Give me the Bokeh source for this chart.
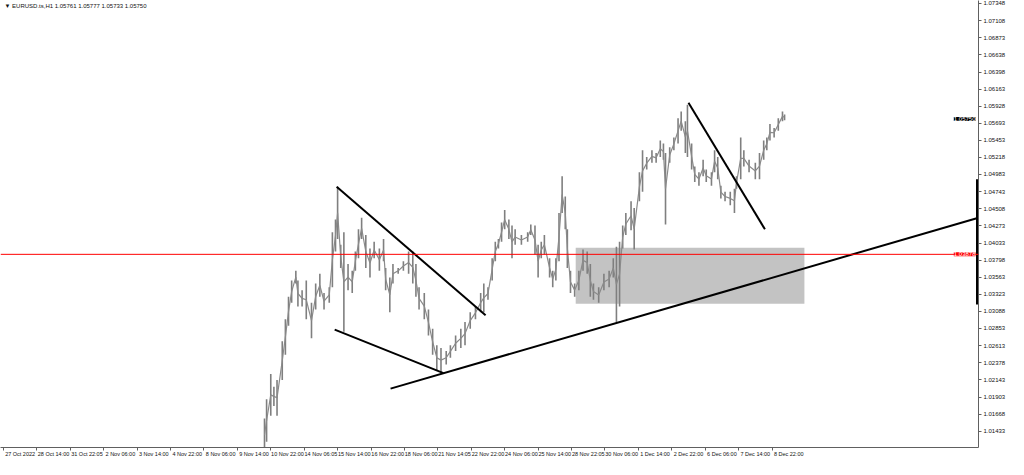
from bokeh.plotting import figure
from bokeh.models import Range1d, FixedTicker, PrintfTickFormatter, Label, Span, LinearAxis
from bokeh.embed import file_html
from bokeh.resources import INLINE

# ---- data (H1 bars, index = hours of trading since 27 Oct 2022) ----
bar = [250, 252, 256, 259, 262, 267, 270, 273, 276, 280, 282, 286, 290, 295, 299, 303, 307, 312, 315, 318,
       320, 323, 326, 330, 334, 337, 340, 343, 347, 351, 355, 360, 364, 366, 370, 373, 378, 383, 388, 392,
       395, 398, 403, 407, 411, 415, 419, 424, 428, 433, 438, 442, 447, 452, 457, 460, 464, 468, 471, 474,
       477, 480, 484, 487, 490, 496, 502, 505, 509, 512, 515, 518, 523, 526, 529, 532, 535, 538, 540, 543,
       547, 551, 555, 559, 562, 565, 570, 575, 580, 584, 587, 590, 593, 596, 601, 604, 609, 612, 616, 621,
       625, 629, 632, 634, 638, 642, 646, 649, 653, 655, 659, 662, 666, 670, 673, 678, 681, 684, 687, 691,
       696, 700, 702, 706, 709, 714, 720, 724, 728, 731, 734, 738, 742, 746, 748]
high = [1.01607, 1.01874, 1.02222, 1.02048, 1.02141, 1.02675, 1.02982, 1.03290, 1.03517, 1.03650,
        1.03517, 1.03383, 1.03517, 1.03209, 1.03476, 1.03610, 1.03343, 1.03423, 1.04184, 1.04358,
        1.04811, 1.04010, 1.04184, 1.03743, 1.03650, 1.03917, 1.04224, 1.04384, 1.04144, 1.03957,
        1.04051, 1.03957, 1.04091, 1.03690, 1.03557, 1.03743, 1.03690, 1.03784, 1.03917, 1.03917,
        1.03743, 1.03423, 1.03343, 1.03116, 1.02849, 1.02622, 1.02582, 1.02542, 1.02622, 1.02756,
        1.02849, 1.02942, 1.03076, 1.03156, 1.03343, 1.03476, 1.03423, 1.03824, 1.04051, 1.04091,
        1.04318, 1.04491, 1.04358, 1.04277, 1.04224, 1.04144, 1.04184, 1.04291, 1.04277, 1.04010,
        1.04051, 1.04144, 1.03824, 1.03650, 1.03824, 1.04451, 1.04958, 1.04678, 1.04224, 1.03650,
        1.03476, 1.03650, 1.03944, 1.03917, 1.03743, 1.03476, 1.03423, 1.03610, 1.03650, 1.03824,
        1.03984, 1.04051, 1.04277, 1.04451, 1.04611, 1.04518, 1.05012, 1.05319, 1.05225, 1.05319,
        1.05279, 1.05452, 1.05412, 1.05279, 1.05359, 1.05492, 1.05759, 1.05853, 1.05719, 1.05946,
        1.05412, 1.05092, 1.05012, 1.05185, 1.05052, 1.05012, 1.05319, 1.05225, 1.04825, 1.04745,
        1.04745, 1.04785, 1.04958, 1.05492, 1.05319, 1.05185, 1.05145, 1.05279, 1.05452, 1.05492,
        1.05679, 1.05626, 1.05759, 1.05853, 1.05813]
low = [1.01150, 1.01287, 1.01647, 1.01781, 1.01647, 1.02141, 1.02489, 1.02889, 1.03209, 1.03476,
       1.03156, 1.03156, 1.02982, 1.02716, 1.03116, 1.03290, 1.03116, 1.03209, 1.03423, 1.03917,
       1.04091, 1.03690, 1.02809, 1.03383, 1.03343, 1.03650, 1.03824, 1.04091, 1.03690, 1.03557,
       1.03824, 1.03650, 1.03784, 1.03383, 1.03076, 1.03476, 1.03610, 1.03650, 1.03610, 1.03476,
       1.03290, 1.03116, 1.02982, 1.02756, 1.02489, 1.02275, 1.02248, 1.02355, 1.02449, 1.02542,
       1.02582, 1.02622, 1.02849, 1.02982, 1.03076, 1.03076, 1.03250, 1.03517, 1.03784, 1.03957,
       1.04051, 1.04224, 1.04091, 1.03824, 1.04010, 1.04010, 1.04051, 1.04144, 1.03877, 1.03557,
       1.03824, 1.03877, 1.03557, 1.03423, 1.03517, 1.03784, 1.04451, 1.04224, 1.03690, 1.03343,
       1.03290, 1.03383, 1.03650, 1.03610, 1.03290, 1.03250, 1.03209, 1.03383, 1.03423, 1.03557,
       1.02942, 1.03156, 1.03957, 1.04144, 1.04211, 1.03944, 1.04611, 1.04745, 1.05052, 1.05145,
       1.05145, 1.05225, 1.05185, 1.04291, 1.05145, 1.05319, 1.05412, 1.05586, 1.05279, 1.05225,
       1.05052, 1.04878, 1.04825, 1.04958, 1.04878, 1.04825, 1.05012, 1.04918, 1.04651, 1.04611,
       1.04558, 1.04451, 1.04785, 1.04918, 1.05092, 1.05012, 1.04918, 1.04918, 1.05185, 1.05319,
       1.05452, 1.05492, 1.05586, 1.05719, 1.05733]

x_tick_pos = [0, 32, 64, 96, 128, 160, 192, 224, 256, 288, 320, 352, 384, 416, 448, 480,
              512, 544, 576, 608, 640, 672, 704, 736]
x_tick_labels = ["27 Oct 2022", "28 Oct 14:00", "31 Oct 22:05", "2 Nov 06:00", "3 Nov 14:00",
                 "4 Nov 22:00", "8 Nov 06:00", "9 Nov 14:00", "10 Nov 22:00", "14 Nov 06:05",
                 "15 Nov 14:00", "16 Nov 22:00", "18 Nov 06:00", "21 Nov 14:05", "22 Nov 22:00",
                 "24 Nov 06:00", "25 Nov 14:00", "28 Nov 22:05", "30 Nov 06:00", "1 Dec 14:00",
                 "2 Dec 22:00", "6 Dec 06:00", "7 Dec 14:00", "8 Dec 22:00"]
y_tick_vals = [1.07348, 1.07108, 1.06873, 1.06638, 1.06398, 1.06163, 1.05928, 1.05693, 1.05453,
               1.05218, 1.04983, 1.04743, 1.04508, 1.04273, 1.04033, 1.03798, 1.03563, 1.03323,
               1.03088, 1.02853, 1.02613, 1.02378, 1.02143, 1.01903, 1.01668, 1.01433, 1.01193]

level_price = [1.03878]
last_price = [1.05750]
title_text = "\u25bc EURUSD.ts,H1  1.05761 1.05777 1.05733 1.05750"

# demand zone rectangle
zone_left = [548]
zone_right = [767]
zone_top = [1.03970]
zone_bottom = [1.03196]

# trend lines
tl_x0 = [319.1, 317.2, 370.7, 656.0]
tl_y0 = [1.04811, 1.02836, 1.02021, 1.05973]
tl_x1 = [461.7, 421.4, 933.7, 729.2]
tl_y1 = [1.03036, 1.02235, 1.04384, 1.04224]

x_start, x_end = -2.8, 933.7
y_low, y_high = 1.01207, 1.07388

FONT = "Liberation Sans"
LABEL_SHIFT = 16   # MT4 writes each date label to the right of its tick mark

p = figure(width=1008, height=459, output_backend="svg", toolbar_location=None,
           x_range=Range1d(x_start, x_end), y_range=Range1d(y_low, y_high),
           y_axis_location="right", min_border_left=0, min_border_top=0,
           min_border_bottom=0, min_border_right=0)
p.outline_line_color = None
p.grid.visible = False
p.background_fill_color = "white"
p.border_fill_color = "white"

# y axis (price scale)
ya = p.yaxis[0]
ya.axis_line_color = "#606060"
ya.major_tick_line_color = "#606060"
ya.minor_tick_line_color = None
ya.major_tick_in = 0
ya.major_tick_out = 3
ya.major_label_text_font = FONT
ya.major_label_text_font_size = "6px"
ya.major_label_text_color = "#111111"
ya.major_label_standoff = 2
ya.axis_label_standoff = 0
ya.ticker = FixedTicker(ticks=y_tick_vals)
ya.formatter = PrintfTickFormatter(format="%.5f")

# x axis: tick marks only
xa = p.xaxis[0]
xa.axis_line_color = "#606060"
xa.major_tick_line_color = "#606060"
xa.minor_tick_line_color = None
xa.major_tick_in = 0
xa.major_tick_out = 3
xa.ticker = FixedTicker(ticks=x_tick_pos)
xa.major_label_overrides = {t: "" for t in x_tick_pos}
xa.major_label_text_font_size = "1px"
xa.major_label_standoff = 0
xa.axis_label_standoff = 0

# x axis: date labels, written just right of each tick mark
label_pos = [t + LABEL_SHIFT for t in x_tick_pos]
xl = LinearAxis(ticker=FixedTicker(ticks=label_pos),
                major_label_overrides={t: l for t, l in zip(label_pos, x_tick_labels)},
                axis_line_color=None, major_tick_line_color=None, minor_tick_line_color=None,
                major_tick_out=0, major_tick_in=0,
                major_label_text_font=FONT, major_label_text_font_size="5.5px",
                major_label_text_color="#111111", major_label_standoff=0,
                axis_label_standoff=0)
p.add_layout(xl, "below")

# zone
p.quad(left=zone_left, right=zone_right, top=zone_top, bottom=zone_bottom,
       fill_color="#c3c3c3", line_color=None)

# price
mid = [(h + l) / 2 for h, l in zip(high, low)]
p.segment(x0=bar, y0=low, x1=bar, y1=high, line_color="#7f7f7f", line_width=1.6)
p.line(x=bar, y=mid, line_color="#8a8a8a", line_width=1.2)

# level line
p.add_layout(Span(location=level_price[0], dimension="width", line_color="#ff0000", line_width=1))

# trend lines
p.segment(x0=tl_x0, y0=tl_y0, x1=tl_x1, y1=tl_y1, line_color="black", line_width=2)

# marker on price scale
p.segment(x0=[x_end], y0=[1.03183], x1=[x_end], y1=[1.04918], line_color="black", line_width=5)

# price tags at the price scale
for val, col in ((last_price[0], "black"), (level_price[0], "#ff0000")):
    p.add_layout(Label(x=x_end, y=val, text="%.5f" % val, x_offset=-3,
                       text_font=FONT, text_font_size="6px", text_color="white",
                       background_fill_color=col, text_baseline="middle",
                       text_align="right"))

# title
p.add_layout(Label(x=x_start, y=y_high, x_offset=4, y_offset=-5, text=title_text,
                   text_font=FONT, text_font_size="6px", text_color="#111111",
                   text_baseline="middle", text_align="left"))

open("out.html", "w").write(file_html(p, INLINE))
